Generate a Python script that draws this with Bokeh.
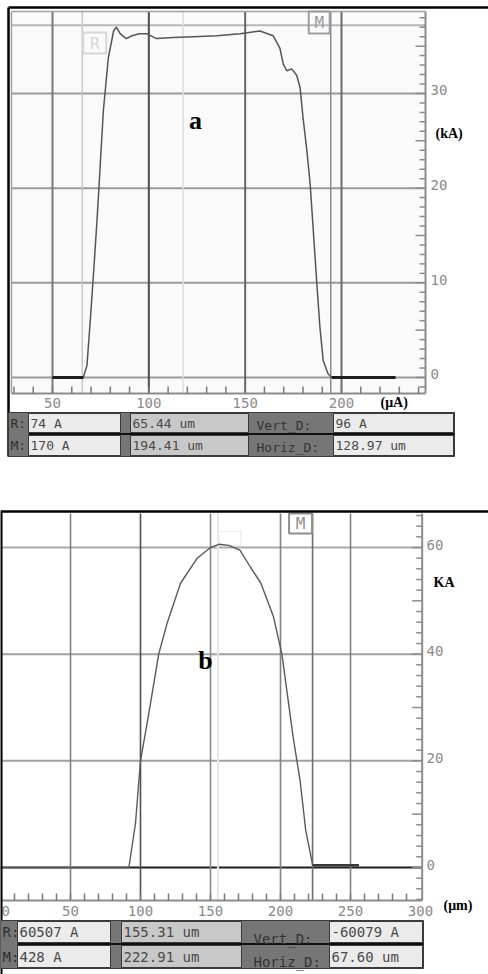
import numpy as np
from bokeh.plotting import figure
from bokeh.layouts import column
from bokeh.models import Range1d
from bokeh.core.properties import value
from bokeh.embed import file_html
from bokeh.resources import INLINE

# ---------------- panel a data ----------------
a_x = [50, 66, 67.9, 69.6, 71.4, 73.1, 74.0, 76.4, 79.0, 81.7, 83.1, 85.2, 88.3, 91.3, 95.0,
       99.0, 104.0, 112.7, 123.0, 135.3, 147.4, 157.7, 164.5, 168.0, 169.8, 171.6, 174.2,
       176.8, 178.5, 180.0, 182.0, 183.7, 185.0, 187.1, 188.8, 190.5, 193.0, 195.0, 228.0]
a_y = [0, 0, 1.3, 6.0, 11.3, 16.6, 19.7, 28.2, 33.8, 36.6, 37.0, 36.3, 35.8, 36.1, 36.3,
       36.3, 35.8, 35.9, 36.0, 36.1, 36.3, 36.6, 36.1, 34.8, 33.1, 32.4, 32.6,
       31.9, 30.6, 27.5, 24.0, 20.5, 16.6, 10.2, 5.3, 1.8, 0.4, 0.0, 0.0]
a_xticks = [50, 100, 150, 200]
a_xtick_labels = ["50", "100", "150", "200"]
a_yticks = [0, 10, 20, 30]
a_ytick_labels = ["0", "10", "20", "30"]
a_minor_x = list(range(30, 241, 10))
a_minor_y = list(range(-1, 39))
a_cursor_R = 65.44
a_cursor_M = 194.41
a_ghost = 117.8
a_level = 37.2
a_x_start, a_x_end = 28.7, 243.6
a_y_bottom, a_y_top = -1.7, 38.66
a_row1 = ["74 A", "65.44 um", "Vert_D:", "96 A"]
a_row2 = ["170 A", "194.41 um", "Horiz_D:", "128.97 um"]

# ---------------- panel b data ----------------
b_x = [0, 91.7, 96.4, 100.0, 106.0, 113.0, 119.0, 128.6, 140.5, 150.0, 156.0, 163.0, 171.0,
       178.6, 186.0, 195.0, 201.0, 209.0, 214.0, 218.0, 223.0, 256.0]
b_y = [0, 0, 8.2, 20.0, 29.0, 40.0, 45.8, 53.3, 58.0, 60.0, 60.6, 60.4, 59.5,
       56.3, 53.3, 47.0, 40.0, 24.5, 16.3, 7.0, 0.4, 0.4]
b_xticks = [0, 50, 100, 150, 200, 250, 300]
b_xtick_labels = ["0", "50", "100", "150", "200", "250", "300"]
b_yticks = [0, 20, 40, 60]
b_ytick_labels = ["0", "20", "40", "60"]
b_minor_x = list(range(10, 291, 10))
b_minor_y = list(range(-6, 67, 2))
b_cursor_R = 155.31
b_cursor_M = 222.91
b_x_start, b_x_end = 0.0, 301.2
b_y_bottom, b_y_top = -6.2, 66.4
b_row1 = ["60507 A", "155.31 um", "Vert_D:", "-60079 A"]
b_row2 = ["428 A", "222.91 um", "Horiz_D:", "67.60 um"]

MONO = value("DejaVu Sans Mono")
SERIF = value("Liberation Serif")

W = 488
HA = 480
HB = 974 - HA

# page-pixel helpers for decorations
XA = lambda px: 23.01 + px / 1.9267
YA = lambda py: 39.82 - py / 9.467
XB = lambda px: px / 1.4
YB = lambda py: (867 - py) / 5.333


def make_fig(h, xr, yr):
    p = figure(width=W, height=h, x_range=Range1d(*xr), y_range=Range1d(*yr),
               output_backend="svg", toolbar_location=None, tools="",
               min_border=0, x_axis_location=None, y_axis_location=None,
               background_fill_color="white", border_fill_color="white",
               outline_line_color=None)
    p.xgrid.visible = False
    p.ygrid.visible = False
    return p


def txt(p, x, y, s, size, color, font=MONO, align="left", style="normal", yoff=0):
    p.text(x=[x], y=[y], text=[s], text_font=font, text_font_size=size,
           text_color=color, text_align=align, text_baseline="middle",
           text_font_style=style, y_offset=yoff)


def readouts(p, X, Y, band, boxes, rows, divider_y, labels, row_texts, text_x, dark_text_y, fs):
    l, r, t, b = band
    p.quad(left=[X(l)], right=[X(r)], top=[Y(t)], bottom=[Y(b)],
           fill_color="#767676", line_color="#3a3a3a", line_width=1)
    for (bl, br, col) in boxes:
        for (rt, rb) in rows:
            p.quad(left=[X(bl)], right=[X(br)], top=[Y(rt)], bottom=[Y(rb)],
                   fill_color=col, line_color="#3a3a3a", line_width=1)
    p.segment(x0=[X(boxes[0][0])], x1=[X(r)], y0=[Y(divider_y)], y1=[Y(divider_y)],
              line_color="#111111", line_width=2)
    for k, (rt, rb) in enumerate(rows):
        yc = Y((rt + rb) / 2)
        txt(p, X(labels[1][0]), yc, labels[0][k], fs, "#2e2e2e")
        for j, s in enumerate(row_texts[k]):
            if j == 2:
                txt(p, X(text_x[j]), Y(dark_text_y[k]), s, fs, "#333333")
            else:
                txt(p, X(text_x[j]), yc, s, fs, "#4a4a4a")


# ================= PANEL A =================
pa = make_fig(HA, (XA(0), XA(W)), (YA(HA), YA(0)))

pa.quad(left=[a_x_start], right=[a_x_end], top=[a_y_top], bottom=[a_y_bottom],
        fill_color="#fafafa", line_color=None)
pa.segment(x0=[a_x_start] * len(a_yticks), x1=[a_x_end] * len(a_yticks),
           y0=a_yticks, y1=a_yticks, line_color="#9a9a9a", line_width=2)
pa.segment(x0=[a_x_start], x1=[a_x_end], y0=[a_level], y1=[a_level],
           line_color="#b8b8b8", line_width=2)
pa.segment(x0=a_xticks, x1=a_xticks, y0=[a_y_bottom] * 4, y1=[a_y_top] * 4,
           line_color=["#7a7a7a", "#4e4e4e", "#666666", "#6a6a6a"], line_width=2)
pa.segment(x0=[a_ghost], x1=[a_ghost], y0=[a_y_bottom], y1=[a_y_top],
           line_color="#dedede", line_width=1.5)
pa.segment(x0=[a_cursor_R], x1=[a_cursor_R], y0=[a_y_bottom], y1=[a_y_top],
           line_color="#c8c8c8", line_width=1.5)
pa.segment(x0=[a_cursor_M], x1=[a_cursor_M], y0=[a_y_bottom], y1=[a_y_top],
           line_color="#8a8a8a", line_width=1.5)
pa.segment(x0=[a_x_start, a_x_start], x1=[a_x_end, a_x_start],
           y0=[a_y_top, a_y_top], y1=[a_y_top, a_y_bottom], line_color="#a0a0a0", line_width=1.5)
pa.segment(x0=[a_x_start, a_x_end], x1=[a_x_end, a_x_end],
           y0=[a_y_bottom, a_y_bottom], y1=[a_y_bottom, a_y_top], line_color="#8c8c8c", line_width=2)
pa.ray(x=a_minor_x, y=[a_y_bottom] * len(a_minor_x), length=7, length_units="screen",
       angle=np.pi / 2, line_color="#7a7a7a", line_width=1.5)
a_ylen = [10 if v % 5 == 0 else 6 for v in a_minor_y]
pa.ray(x=[a_x_end] * len(a_minor_y), y=a_minor_y, length=a_ylen, length_units="screen",
       angle=np.pi, line_color="#8c8c8c", line_width=1.5)
pa.text(x=a_xticks, y=[YA(402)] * 4, text=a_xtick_labels, text_font=MONO, text_font_size="14px",
        text_color="#8a8a8a", text_align="center", text_baseline="middle")
pa.text(x=[XA(430)] * 4, y=a_yticks, text=a_ytick_labels, text_font=MONO, text_font_size="14px",
        text_color="#8a8a8a", text_align="left", text_baseline="middle", y_offset=-3)
rx = a_cursor_R + 1 / 1.9267
pa.quad(left=[rx], right=[rx + 23 / 1.9267], top=[YA(32)], bottom=[YA(53)],
        fill_color=None, line_color="#d6d6d6", line_width=2)
txt(pa, rx + 11.5 / 1.9267, YA(42.5), "R", "16px", "#d6d6d6", align="center")
mx = a_cursor_M - 1 / 1.9267
pa.quad(left=[mx - 21 / 1.9267], right=[mx], top=[YA(11)], bottom=[YA(33)],
        fill_color=None, line_color="#9c9c9c", line_width=2)
txt(pa, mx - 10.5 / 1.9267, YA(22), "M", "16px", "#9c9c9c", align="center")
pa.line(a_x, a_y, line_color="#555555", line_width=1.5)
flat_a = [(a_x[i], a_x[i + 1]) for i in range(len(a_x) - 1) if a_y[i] == 0 and a_y[i + 1] == 0]
pa.segment(x0=[f[0] for f in flat_a], x1=[f[1] for f in flat_a], y0=[0] * len(flat_a),
           y1=[0] * len(flat_a), line_color="#1e1e1e", line_width=3)
pa.segment(x0=[XA(8), XA(8)], x1=[XA(W), XA(8)], y0=[YA(7), YA(7)], y1=[YA(7), YA(456)],
           line_color="black", line_width=2.5)
txt(pa, XA(195), YA(120), "a", "26px", "black", font=SERIF, align="center", style="bold")
txt(pa, XA(435), YA(133), "(kA)", "14px", "black", font=SERIF, style="bold")
txt(pa, XA(380), YA(402), "(μA)", "14px", "black", font=SERIF, style="bold")
readouts(pa, XA, YA, band=(8, 454, 412, 456),
         boxes=[(28, 120, "#ebebeb"), (130, 248, "#c8c8c8"), (333, 453, "#ebebeb")],
         rows=[(413, 432), (435, 455)], divider_y=433.5,
         labels=(["R:", "M:"], [10]), row_texts=[a_row1, a_row2],
         text_x=[30, 132, 256, 335], dark_text_y=[425, 447], fs="13px")

# ================= PANEL B =================
pb = make_fig(HB, (XB(0), XB(W)), (YB(974), YB(HA)))

nyb = len(b_yticks)
pb.segment(x0=[b_x_start] * nyb, x1=[b_x_end] * nyb, y0=b_yticks, y1=b_yticks,
           line_color=["#1e1e1e", "#a0a0a0", "#a0a0a0", "#a8a8a8"], line_width=2)
inner = b_xticks[1:-1]
pb.segment(x0=inner, x1=inner, y0=[b_y_bottom] * len(inner), y1=[b_y_top] * len(inner),
           line_color=["#808080", "#505050", "#8a8a8a", "#808080", "#808080"], line_width=1.6)
pb.segment(x0=[b_cursor_R], x1=[b_cursor_R], y0=[b_y_bottom], y1=[b_y_top],
           line_color="#e6e6e6", line_width=2)
pb.segment(x0=[b_cursor_M], x1=[b_cursor_M], y0=[b_y_bottom], y1=[b_y_top],
           line_color="#6e6e6e", line_width=1.6)
pb.segment(x0=[b_x_start, b_x_end], x1=[b_x_end, b_x_end],
           y0=[b_y_bottom, b_y_bottom], y1=[b_y_bottom, b_y_top], line_color="#8c8c8c", line_width=2)
pb.ray(x=b_minor_x, y=[b_y_bottom] * len(b_minor_x), length=7, length_units="screen",
       angle=np.pi / 2, line_color="#7a7a7a", line_width=1.5)
b_ylen = [10 if v % 10 == 0 else 6 for v in b_minor_y]
pb.ray(x=[b_x_end] * len(b_minor_y), y=b_minor_y, length=b_ylen, length_units="screen",
       angle=np.pi, line_color="#8c8c8c", line_width=1.5)
# x tick labels: first one left-aligned so it stays inside the page
pb.text(x=b_xticks[:1], y=[YB(910)], text=b_xtick_labels[:1], text_font=MONO,
        text_font_size="14px", text_color="#8a8a8a", text_align="left", text_baseline="middle",
        x_offset=1)
pb.text(x=b_xticks[1:], y=[YB(910)] * (len(b_xticks) - 1), text=b_xtick_labels[1:], text_font=MONO,
        text_font_size="14px", text_color="#8a8a8a", text_align="center", text_baseline="middle")
pb.text(x=[XB(426)] * nyb, y=b_yticks, text=b_ytick_labels, text_font=MONO, text_font_size="14px",
        text_color="#8a8a8a", text_align="left", text_baseline="middle", y_offset=-3)
bmx = b_cursor_M - 0.5 / 1.4
pb.quad(left=[bmx - 23 / 1.4], right=[bmx], top=[YB(513)], bottom=[YB(533)],
        fill_color=None, line_color="#8e8e8e", line_width=2)
txt(pb, bmx - 11.5 / 1.4, YB(523), "M", "16px", "#8e8e8e", align="center")
brx = b_cursor_R + 1 / 1.4
pb.quad(left=[brx], right=[brx + 22 / 1.4], top=[YB(531)], bottom=[YB(545)],
        fill_color=None, line_color="#eeeeee", line_width=1.5)
pb.line(b_x, b_y, line_color="#5a5a5a", line_width=1.4)
pb.line(b_x[-2:], b_y[-2:], line_color="#3a3a3a", line_width=2.5)
pb.segment(x0=[XB(0), XB(0.8)], x1=[XB(W), XB(0.8)], y0=[YB(511), YB(511)], y1=[YB(511), YB(974)],
           line_color="black", line_width=2.5)
txt(pb, XB(205), YB(660), "b", "26px", "black", font=SERIF, align="center", style="bold")
txt(pb, XB(433), YB(582), "KA", "14px", "black", font=SERIF, style="bold")
txt(pb, XB(443), YB(905), "(μm)", "14px", "black", font=SERIF, style="bold")
readouts(pb, XB, YB, band=(0, 423, 920, 968),
         boxes=[(17, 110, "#ebebeb"), (121, 241, "#c8c8c8"), (329, 422, "#ebebeb")],
         rows=[(921, 942), (945, 967)], divider_y=943.5,
         labels=(["R:", "M:"], [2]), row_texts=[b_row1, b_row2],
         text_x=[19, 123, 253, 331], dark_text_y=[938, 961], fs="14px")

layout = column(pa, pb, spacing=0)
open("out.html", "w").write(file_html(layout, INLINE))
